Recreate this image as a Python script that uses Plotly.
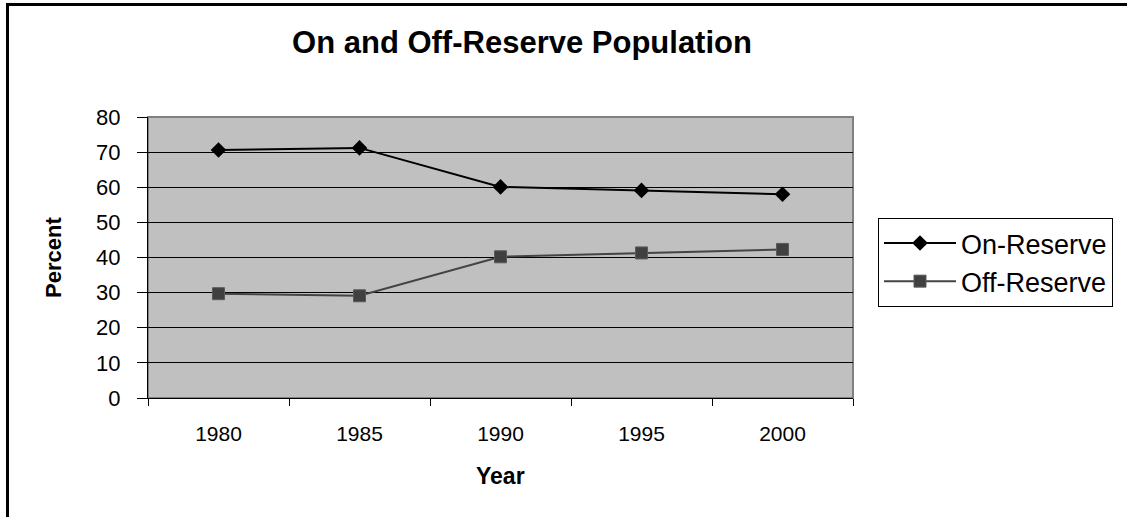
import plotly.graph_objects as go

years = ["1980", "1985", "1990", "1995", "2000"]
on_reserve = [70.6, 71.2, 60.1, 59.1, 58.0]
off_reserve = [29.7, 29.1, 40.2, 41.3, 42.3]
y_ticks = [0, 10, 20, 30, 40, 50, 60, 70, 80]

FONT = "Liberation Sans, Arial, sans-serif"

fig = go.Figure()
fig.add_trace(go.Scatter(
    x=years, y=on_reserve, name="On-Reserve", mode="lines+markers",
    line=dict(color="black", width=2),
    marker=dict(symbol="diamond", size=12, color="black"),
))
fig.add_trace(go.Scatter(
    x=years, y=off_reserve, name="Off-Reserve", mode="lines+markers",
    line=dict(color="#444444", width=2),
    marker=dict(symbol="square", size=12, color="#404040",
                line=dict(color="#5a5a5a", width=1)),
))

PW, PH = 705, 281  # plot-area size in px (for paper-coordinate conversions)

fig.update_layout(
    width=1127, height=517,
    margin=dict(l=148, r=274, t=117, b=119),
    paper_bgcolor="white", plot_bgcolor="#C0C0C0",
    font=dict(family=FONT, color="black", size=21),
    title=dict(text="<b>On and Off-Reserve Population</b>",
               font=dict(size=31, family=FONT, color="black"),
               x=522 / 1127, xref="container", xanchor="center",
               y=1 - 42 / 517, yref="container", yanchor="middle"),
    showlegend=True,
    legend=dict(x=(878 - 148) / PW, y=(398 - 218) / PH,
                xanchor="left", yanchor="top", itemwidth=72,
                bordercolor="black", borderwidth=1, bgcolor="white",
                font=dict(size=27, family=FONT, color="black")),
    xaxis=dict(type="category", range=[-0.5, 4.5],
               tickson="boundaries", ticks="outside", ticklen=7,
               tickcolor="black", tickwidth=1,
               showline=True, linecolor="black", linewidth=1,
               showgrid=False, zeroline=False,
               tickfont=dict(size=21), ticklabelstandoff=17),
    yaxis=dict(range=[0, 80], tickvals=y_ticks,
               ticks="outside", ticklen=10, tickcolor="black", tickwidth=1,
               showline=True, linecolor="black", linewidth=1,
               showgrid=True, gridcolor="black", gridwidth=1,
               zeroline=False, tickfont=dict(size=22), ticklabelstandoff=12),
    annotations=[
        dict(text="<b>Percent</b>", xref="paper", yref="paper",
             x=(53.5 - 148) / PW, y=0.5, textangle=-90, showarrow=False,
             xanchor="center", yanchor="middle", font=dict(size=22)),
        dict(text="<b>Year</b>", xref="paper", yref="paper",
             x=(500.7 - 148) / PW, y=(398 - 475.6) / PH, showarrow=False,
             xanchor="center", yanchor="middle", font=dict(size=23)),
    ],
    shapes=[
        dict(type="rect", xref="paper", yref="paper", x0=0, y0=0, x1=1, y1=1,
             line=dict(color="#808080", width=2), layer="below"),
        # outer chart frame: left and top edges
        dict(type="line", xref="paper", yref="paper",
             x0=(7.5 - 148) / PW, x1=(7.5 - 148) / PW,
             y0=(398 - 520) / PH, y1=(398 - 3) / PH,
             line=dict(color="black", width=3), layer="above"),
        dict(type="line", xref="paper", yref="paper",
             x0=(6 - 148) / PW, x1=(1130 - 148) / PW,
             y0=(398 - 4.5) / PH, y1=(398 - 4.5) / PH,
             line=dict(color="black", width=3), layer="above"),
    ],
)

fig.write_html("out.html", config={"displayModeBar": False},
               post_script="document.body.style.margin='0';document.body.style.overflow='hidden';")
